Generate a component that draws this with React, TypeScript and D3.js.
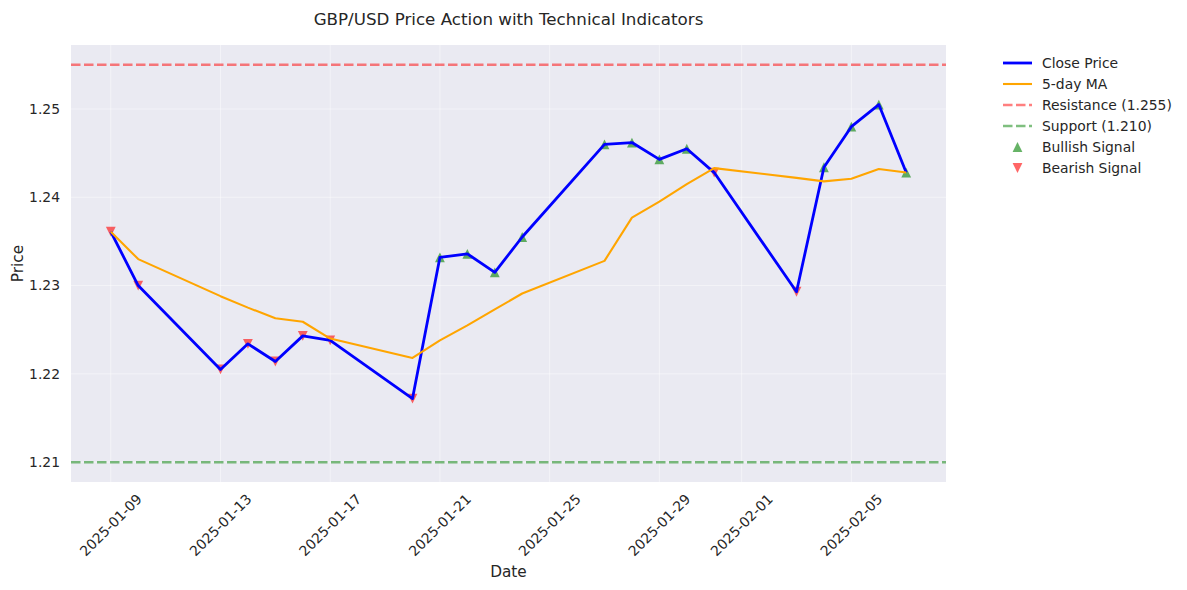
import React, { useEffect } from "react";
import * as d3 from "d3";

// values
const dates = [
	"2025-01-09", "2025-01-10", "2025-01-13", "2025-01-14", "2025-01-15",
	"2025-01-16", "2025-01-17", "2025-01-20", "2025-01-21", "2025-01-22",
	"2025-01-23", "2025-01-24", "2025-01-27", "2025-01-28", "2025-01-29",
	"2025-01-30", "2025-01-31", "2025-02-03", "2025-02-04", "2025-02-05",
	"2025-02-06", "2025-02-07",
];
const closePrices = [
	1.2361, 1.2300, 1.2205, 1.2234, 1.2214, 1.2243, 1.2238, 1.2172, 1.2332,
	1.2336, 1.2315, 1.2355, 1.2460, 1.2462, 1.2443, 1.2455, 1.2428, 1.2293,
	1.2434, 1.2480, 1.2505, 1.2428,
];
const maValues = [
	1.2361, 1.2330, 1.2288, 1.2275, 1.2263, 1.2259, 1.2240, 1.2218, 1.2238,
	1.2255, 1.2273, 1.2291, 1.2328, 1.2377, 1.2395, 1.2415, 1.2433, 1.2422,
	1.2418, 1.2421, 1.2432, 1.2428,
];
const signals = [
	"bear", "bear", "bear", "bear", "bear", "bear", "bear", "bear", "bull",
	"bull", "bull", "bull", "bull", "bull", "bull", "bull", "bear", "bear",
	"bull", "bull", "bull", "bull",
];
const resistance = 1.255;
const support = 1.21;
const xTickDates = [
	"2025-01-09", "2025-01-13", "2025-01-17", "2025-01-21",
	"2025-01-25", "2025-01-29", "2025-02-01", "2025-02-05",
];
const yTicks = [1.21, 1.22, 1.23, 1.24, 1.25];

const W = 1187;
const H = 590;
const left = 71;
const right = 946;
const top = 45;
const bottom = 482;
const font = "'DejaVu Sans', sans-serif";
const textColor = "#262626";
const dash = "9.5,3.5";

const parse = d3.utcParse("%Y-%m-%d");

const triUp = (cx: number, cy: number, r: number) =>
	`M${cx},${cy - r}L${cx + r},${cy + r}L${cx - r},${cy + r}Z`;
const triDown = (cx: number, cy: number, r: number) =>
	`M${cx},${cy + r}L${cx + r},${cy - r}L${cx - r},${cy - r}Z`;

const App = () => {
	useEffect(() => {
		document.body.style.margin = "0";
	}, []);

	const pts = dates.map((d, i) => ({
		date: parse(d) as Date,
		close: closePrices[i],
		ma: maValues[i],
		signal: signals[i],
	}));

	const [d0, d1] = d3.extent(pts, (p) => p.date) as [Date, Date];
	const span = +d1 - +d0;
	const x = d3
		.scaleUtc()
		.domain([new Date(+d0 - span * 0.05), new Date(+d1 + span * 0.05)])
		.range([left, right]);

	const yLo = support;
	const yHi = resistance;
	const yPad = (yHi - yLo) * 0.05;
	const y = d3.scaleLinear().domain([yLo - yPad, yHi + yPad]).range([bottom, top]);

	const closeLine = d3
		.line<(typeof pts)[0]>()
		.x((p) => x(p.date))
		.y((p) => y(p.close));
	const maLine = d3
		.line<(typeof pts)[0]>()
		.x((p) => x(p.date))
		.y((p) => y(p.ma));

	const bullColor = "rgb(0,128,0)";
	const bearColor = "rgb(255,0,0)";
	const mr = 4.9;

	const legendItems = [
		{ label: "Close Price", kind: "line", color: "blue", width: 2.8, dash: "" },
		{ label: "5-day MA", kind: "line", color: "orange", width: 2.1, dash: "" },
		{ label: "Resistance (1.255)", kind: "line", color: bearColor, width: 2.5, dash, opacity: 0.5 },
		{ label: "Support (1.210)", kind: "line", color: bullColor, width: 2.5, dash, opacity: 0.5 },
		{ label: "Bullish Signal", kind: "up", color: bullColor },
		{ label: "Bearish Signal", kind: "down", color: bearColor },
	];

	return (
		<svg width={W} height={H} style={{ display: "block", background: "white" }} fontFamily={font}>
			<text x={(left + right) / 2} y={25} textAnchor="middle" fontSize={16.7} fill={textColor}>
				GBP/USD Price Action with Technical Indicators
			</text>

			<rect x={left} y={top} width={right - left} height={bottom - top} fill="#EAEAF2" />

			{/* grid */}
			{xTickDates.map((d) => (
				<line key={d} x1={x(parse(d) as Date)} x2={x(parse(d) as Date)} y1={top} y2={bottom} stroke="white" strokeOpacity={0.45} strokeWidth={1} />
			))}
			{yTicks.map((t) => (
				<line key={t} x1={left} x2={right} y1={y(t)} y2={y(t)} stroke="white" strokeOpacity={0.45} strokeWidth={1} />
			))}

			{/* signals (drawn under lines) */}
			{pts.map((p, i) =>
				p.signal === "bull" ? (
					<path key={i} d={triUp(x(p.date), y(p.close), mr)} fill={bullColor} fillOpacity={0.6} />
				) : (
					<path key={i} d={triDown(x(p.date), y(p.close), mr)} fill={bearColor} fillOpacity={0.6} />
				)
			)}

			<path d={closeLine(pts) || ""} fill="none" stroke="blue" strokeWidth={2.8} strokeLinejoin="round" />
			<path d={maLine(pts) || ""} fill="none" stroke="orange" strokeWidth={2.1} strokeLinejoin="round" />

			<line x1={left} x2={right} y1={y(resistance)} y2={y(resistance)} stroke={bearColor} strokeOpacity={0.5} strokeWidth={2.5} strokeDasharray={dash} />
			<line x1={left} x2={right} y1={y(support)} y2={y(support)} stroke={bullColor} strokeOpacity={0.5} strokeWidth={2.5} strokeDasharray={dash} />

			{/* y axis */}
			{yTicks.map((t) => (
				<text key={t} x={60} y={y(t)} dy="0.35em" textAnchor="end" fontSize={13.9} fill={textColor}>
					{d3.format(".2f")(t)}
				</text>
			))}
			<text transform={`translate(18,${(top + bottom) / 2}) rotate(-90)`} textAnchor="middle" dy="0.35em" fontSize={15.3} fill={textColor}>
				Price
			</text>

			{/* x axis */}
			{xTickDates.map((d) => (
				<text key={d} transform={`translate(${x(parse(d) as Date)},525) rotate(-45)`} textAnchor="middle" dy="0.35em" fontSize={13.9} fill={textColor}>
					{d}
				</text>
			))}
			<text x={(left + right) / 2} y={577} textAnchor="middle" fontSize={15.3} fill={textColor}>
				Date
			</text>

			{/* legend */}
			{legendItems.map((it, i) => {
				const ly = 63 + i * 21;
				return (
					<g key={it.label}>
						{it.kind === "line" ? (
							<line x1={1003} x2={1032} y1={ly} y2={ly} stroke={it.color} strokeWidth={it.width} strokeOpacity={it.opacity ?? 1} strokeDasharray={it.dash} />
						) : it.kind === "up" ? (
							<path d={triUp(1017.5, ly, mr)} fill={it.color} fillOpacity={0.6} />
						) : (
							<path d={triDown(1017.5, ly, mr)} fill={it.color} fillOpacity={0.6} />
						)}
						<text x={1042} y={ly} dy="0.35em" fontSize={13.9} fill={textColor}>
							{it.label}
						</text>
					</g>
				);
			})}
		</svg>
	);
};

export default App;
